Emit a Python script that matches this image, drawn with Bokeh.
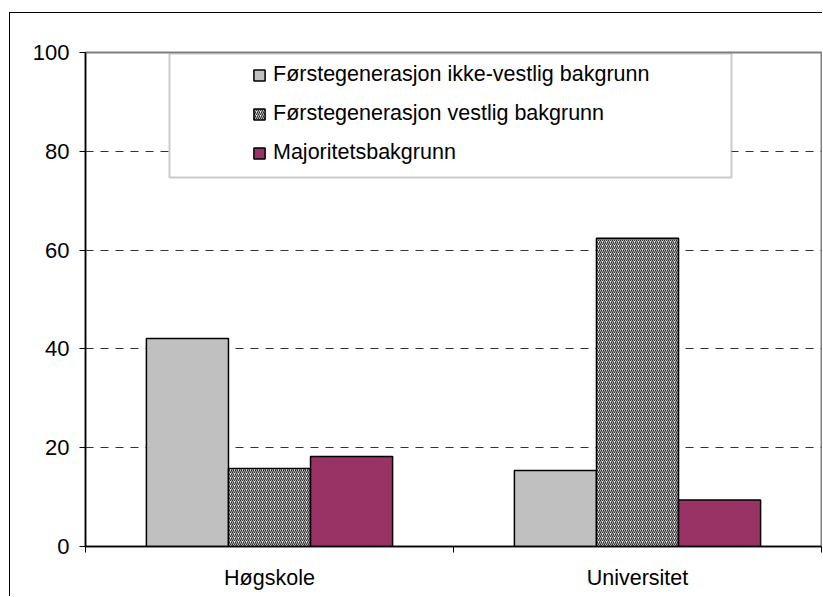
from bokeh.plotting import figure
from bokeh.models import Range1d, FixedTicker, ColumnDataSource, Legend, LegendItem, BoxAnnotation
from bokeh.embed import file_html
from bokeh.resources import INLINE

categories = ["Høgskole", "Universitet"]
series_names = ["Førstegenerasjon ikke-vestlig bakgrunn",
                "Førstegenerasjon vestlig bakgrunn",
                "Majoritetsbakgrunn"]
ikke_vestlig = [42.1, 15.4]
vestlig = [15.8, 62.4]
majoritet = [18.2, 9.4]
y_ticks = [0, 20, 40, 60, 80, 100]

FONT = "Liberation Sans"

p = figure(width=813, height=584, output_backend="svg", toolbar_location=None,
           x_range=Range1d(0, len(categories)), y_range=Range1d(0, 100),
           min_border_left=75, min_border_right=2, min_border_top=39, min_border_bottom=51)
p.styles = {"border-left": "1px solid black", "border-top": "1px solid black",
            "margin-left": "9px", "margin-top": "12px"}
p.outline_line_color = "#808080"
p.outline_line_width = 2
p.background_fill_color = "white"
p.border_fill_color = "white"

bar_w = 0.223
series = [ikke_vestlig, vestlig, majoritet]
offsets = [-bar_w, 0.0, bar_w]
styles = [
    dict(fill_color="#C0C0C0"),
    dict(fill_color="#f0f0f0", hatch_pattern="/", hatch_color="#2e2e2e", hatch_scale=4, hatch_weight=1.2),
    dict(fill_color="#993366"),
]
renderers = []
for vals, off, st in zip(series, offsets, styles):
    src = ColumnDataSource(dict(x=[i + 0.5 + off for i in range(len(categories))], top=vals))
    r = p.vbar(x="x", top="top", width=bar_w, bottom=0, source=src,
               line_color="black", line_width=1.5, **st)
    renderers.append(r)

# axes
xa = p.xaxis[0]
xa.ticker = FixedTicker(ticks=[i + 0.5 for i in range(len(categories))],
                        minor_ticks=list(range(len(categories) + 1)))
xa.major_label_overrides = {i + 0.5: c for i, c in enumerate(categories)}
xa.major_tick_line_color = None
xa.major_tick_out = 0
xa.major_tick_in = 0
xa.minor_tick_line_color = "black"
xa.minor_tick_out = 6
xa.minor_tick_in = 0
xa.axis_line_color = "black"
xa.axis_line_width = 1.5
xa.major_label_standoff = 13
xa.major_label_text_font = FONT
xa.major_label_text_font_size = "21.5px"
xa.major_label_text_color = "black"

ya = p.yaxis[0]
ya.ticker = FixedTicker(ticks=y_ticks)
ya.minor_tick_line_color = None
ya.major_tick_out = 6
ya.major_tick_in = 0
ya.major_tick_line_color = "black"
ya.axis_line_color = "black"
ya.axis_line_width = 1.5
ya.major_label_standoff = 10
ya.major_label_text_font = FONT
ya.major_label_text_font_size = "22px"
ya.major_label_text_color = "black"

p.xgrid.grid_line_color = None
p.ygrid.ticker = FixedTicker(ticks=y_ticks[1:-1])
p.ygrid.grid_line_color = "#333333"
p.ygrid.grid_line_dash = "8 7"
p.ygrid.grid_line_width = 1

# legend box (canvas pixel units)
box = BoxAnnotation(left=158, right=720, top=39, bottom=163,
                    left_units="canvas", right_units="canvas", top_units="canvas", bottom_units="canvas",
                    fill_color="white", fill_alpha=1.0, line_color="#505050", line_width=2)
p.add_layout(box)

legend = Legend(items=[LegendItem(label=n, renderers=[r]) for n, r in zip(series_names, renderers)],
                location=(167, 381), orientation="vertical",
                padding=12, spacing=14, margin=0,
                glyph_width=14, glyph_height=14, label_height=24,
                label_standoff=7,
                label_text_font=FONT, label_text_font_size="21.5px", label_text_color="black",
                border_line_color=None, background_fill_alpha=0.0)
p.add_layout(legend, "center")

open("out.html", "w").write(file_html(p, INLINE))
